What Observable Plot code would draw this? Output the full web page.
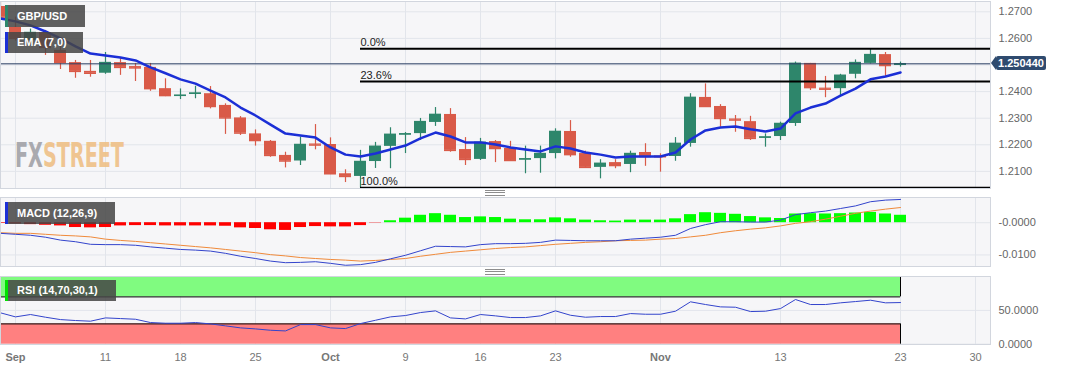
<!DOCTYPE html>
<html>
<head>
<meta charset="utf-8">
<script src="https://cdn.jsdelivr.net/npm/d3@7"></script>
<script src="https://cdn.jsdelivr.net/npm/@observablehq/plot@0.6"></script>
<style>
  html, body { margin: 0; padding: 0; background: #ffffff; }
  #chart { position: relative; width: 1067px; height: 370px; overflow: hidden;
           font-family: "Liberation Sans", Arial, sans-serif; }
  #chart > svg, #chart > figure { position: absolute; left: 0; margin: 0; }
  .lbl { position: absolute; background: rgba(70,70,70,0.86); color: #fff;
         font: bold 11px "Liberation Sans", Arial, sans-serif; padding-left: 12px;
         box-sizing: border-box; white-space: nowrap; }
  .lbl .stripe { position: absolute; left: 0; top: 0; bottom: 0; width: 3px; }
  .tag { position: absolute; left: 996px; width: 50px; height: 14px; background: #2f4b6f;
         color: #fff; font: bold 11px "Liberation Sans", Arial, sans-serif; line-height: 14px;
         text-align: center; border-radius: 2px; }
  .tag::before { content: ""; position: absolute; left: -5px; top: 0; width: 0; height: 0;
         border-top: 7px solid transparent; border-bottom: 7px solid transparent;
         border-right: 5px solid #2f4b6f; }
  .handle { position: absolute; width: 20px; height: 4px; border-top: 1px solid #8d8d8d;
            border-bottom: 1px solid #8d8d8d;
            background: linear-gradient(#fff 0 1.5px, #8d8d8d 1.5px 2.5px, #fff 2.5px); }
</style>
</head>
<body>
<div id="chart"></div>
<script>
// ---------- DATA (trading-day index; -1 = Aug 31, 0 = Sep 1 ... 59 = Nov 23) ----------
const firstIndex = -1;
const open  = [1.2720,1.2641,1.2592,1.2622,1.2555,1.2509,1.2476,1.2469,1.2509,1.2494,1.2491,1.2411,1.2382,1.2389,1.2392,1.2348,1.2301,1.2241,1.2213,1.2160,1.2139,1.2203,1.2201,1.2091,1.2081,1.2137,1.2194,1.2237,1.2242,1.2284,1.2314,1.2182,1.2145,1.2212,1.2186,1.2143,1.2148,1.2167,1.2250,1.2167,1.2115,1.2133,1.2126,1.2171,1.2158,1.2156,1.2205,1.2378,1.2344,1.2297,1.2287,1.2225,1.2231,1.2280,1.2506,1.2413,1.2411,1.2465,1.2506,1.2539,1.2498];
const high  = [1.2740,1.2680,1.2635,1.2630,1.2570,1.2517,1.2517,1.2547,1.2528,1.2506,1.2506,1.2448,1.2410,1.2420,1.2419,1.2354,1.2306,1.2256,1.2216,1.2172,1.2229,1.2276,1.2226,1.2106,1.2179,1.2209,1.2264,1.2246,1.2299,1.2340,1.2336,1.2227,1.2224,1.2216,1.2213,1.2195,1.2195,1.2260,1.2291,1.2176,1.2144,1.2144,1.2176,1.2204,1.2166,1.2227,1.2392,1.2429,1.2351,1.2310,1.2307,1.2241,1.2285,1.2511,1.2506,1.2457,1.2465,1.2519,1.2561,1.2547,1.2511];
const low   = [1.2670,1.2590,1.2580,1.2536,1.2483,1.2450,1.2454,1.2465,1.2461,1.2438,1.2401,1.2381,1.2370,1.2373,1.2335,1.2239,1.2235,1.2195,1.2153,1.2113,1.2122,1.2181,1.2088,1.2058,1.2038,1.2111,1.2110,1.2167,1.2216,1.2269,1.2172,1.2122,1.2141,1.2133,1.2138,1.2091,1.2093,1.2147,1.2153,1.2112,1.2072,1.2110,1.2095,1.2119,1.2097,1.2138,1.2191,1.2341,1.2266,1.2247,1.2216,1.2191,1.2216,1.2269,1.2404,1.2377,1.2385,1.2448,1.2504,1.2457,1.2492];
const close = [1.2680,1.2600,1.2622,1.2566,1.2509,1.2476,1.2469,1.2509,1.2491,1.2489,1.2411,1.2385,1.2386,1.2394,1.2344,1.2301,1.2244,1.2216,1.2160,1.2139,1.2201,1.2199,1.2091,1.2081,1.2137,1.2194,1.2239,1.2241,1.2287,1.2314,1.2179,1.2145,1.2209,1.2186,1.2141,1.2147,1.2167,1.2250,1.2163,1.2115,1.2130,1.2122,1.2167,1.2156,1.2155,1.2205,1.2378,1.2344,1.2299,1.2293,1.2224,1.2229,1.2280,1.2506,1.2415,1.2409,1.2461,1.2509,1.2539,1.2498,1.25044];
const ema7  = [1.2675,1.2664,1.2649,1.2626,1.2600,1.2570,1.2543,1.2536,1.2528,1.2517,1.2491,1.2469,1.2446,1.2430,1.2404,1.2378,1.2340,1.2310,1.2276,1.2242,1.2235,1.2227,1.2190,1.2163,1.2156,1.2167,1.2182,1.2197,1.2224,1.2246,1.2231,1.2209,1.2209,1.2201,1.2190,1.2182,1.2175,1.2194,1.2186,1.2171,1.2163,1.2152,1.2156,1.2156,1.2156,1.2171,1.2220,1.2254,1.2265,1.2269,1.2258,1.2250,1.2261,1.2318,1.2340,1.2355,1.2385,1.2411,1.2446,1.2457,1.2472];

const macdLine   = [-0.0033,-0.0036,-0.0039,-0.0045,-0.0054,-0.0059,-0.0067,-0.0068,-0.0068,-0.0070,-0.0075,-0.0079,-0.0083,-0.0085,-0.0088,-0.0095,-0.0104,-0.0111,-0.0119,-0.0124,-0.0123,-0.0121,-0.0126,-0.0132,-0.0130,-0.0123,-0.0112,-0.0101,-0.0087,-0.0073,-0.0074,-0.0075,-0.0068,-0.0065,-0.0065,-0.0064,-0.0061,-0.0054,-0.0055,-0.0056,-0.0056,-0.0056,-0.0051,-0.0048,-0.0045,-0.0039,-0.0018,-0.0006,0.0003,0.0003,0.0002,0.0002,0.0008,0.0025,0.0031,0.0036,0.0044,0.0052,0.0065,0.0070,0.0072];
const signalLine = [-0.0031,-0.0033,-0.0033,-0.0036,-0.0039,-0.0041,-0.0044,-0.0051,-0.0055,-0.0058,-0.0062,-0.0066,-0.0070,-0.0074,-0.0078,-0.0083,-0.0088,-0.0093,-0.0099,-0.0103,-0.0108,-0.0111,-0.0114,-0.0116,-0.0119,-0.0117,-0.0114,-0.0111,-0.0104,-0.0098,-0.0092,-0.0088,-0.0084,-0.0080,-0.0077,-0.0075,-0.0071,-0.0067,-0.0064,-0.0061,-0.0059,-0.0056,-0.0055,-0.0054,-0.0051,-0.0049,-0.0044,-0.0039,-0.0031,-0.0025,-0.0020,-0.0016,-0.0010,-0.0002,0.0003,0.0011,0.0020,0.0029,0.0036,0.0042,0.0047];
const macdHist   = [-0.0002,-0.0004,-0.0006,-0.0008,-0.0010,-0.0015,-0.0016,-0.0015,-0.0010,-0.0009,-0.0009,-0.0010,-0.0010,-0.0010,-0.0010,-0.0011,-0.0016,-0.0018,-0.0022,-0.0024,-0.0015,-0.0012,-0.0013,-0.0013,-0.0009,-0.0001,0.0006,0.0014,0.0023,0.0028,0.0023,0.0016,0.0018,0.0016,0.0011,0.0009,0.0009,0.0015,0.0012,0.0008,0.0006,0.0005,0.0008,0.0008,0.0008,0.0012,0.0025,0.0031,0.0029,0.0026,0.0019,0.0015,0.0013,0.0027,0.0028,0.0027,0.0028,0.0030,0.0032,0.0027,0.0023];
const rsi14      = [46.4,40.4,43.9,39.9,36.4,35.0,34.0,38.9,37.9,36.9,32.0,31.0,31.0,32.0,30.0,27.1,24.1,22.6,20.6,19.6,29.0,29.0,24.1,23.1,30.5,35.4,40.4,42.4,46.8,49.3,38.9,37.4,43.9,41.9,39.4,39.4,41.9,49.3,42.8,39.9,40.9,40.9,45.3,44.3,44.3,48.8,62.7,58.7,55.2,54.7,48.3,48.8,52.7,66.1,58.7,58.7,61.2,63.1,65.1,61.2,61.6];

const priceTicks = [1.27, 1.26, 1.24, 1.23, 1.22, 1.21];
const priceGrid  = [1.27, 1.26, 1.25, 1.24, 1.23, 1.22, 1.21];
const lastPrice  = 1.25044;
const lastPriceLabel = "1.250440";
const fibLabels  = ["0.0%", "23.6%", "100.0%"];
const fibPrices  = [1.2561, 1.2438, 1.2038];
const fibStartIndex = 23;

const dateTickIndex  = [0, 6, 11, 16, 21, 26, 31, 36, 43, 51, 59, 64];
const dateTickLabels = ["Sep", "11", "18", "25", "Oct", "9", "16", "23", "Nov", "13", "23", "30"];
const monthLabels    = ["Sep", "Oct", "Nov"];

const macdTicks = [0, -0.01];
const macdTickLabels = ["-0.0000", "-0.0100"];
const rsiTicks = [50, 0];
const rsiTickLabels = ["50.0000", "0.0000"];
const rsiTop = 100, rsiOverbought = 70, rsiOversold = 30, rsiBottom = 0;

// ---------- BUILD ----------
const W = 1067, RIGHT = 77;
const xDomain = [-1, 65];
const GREEN = "#2e866b", RED = "#d95a48";
const BG = "#f6f6f8", GRID = "#e2e5eb", BORDER = "#d2d6de";
const half = 0.4;
const lastIndex = firstIndex + open.length - 1;
const idx = (d, i) => i + firstIndex;
const FONT = '"Liberation Sans", Arial, sans-serif';

const candles = open.map((o, i) => ({
  i: i + firstIndex, o, h: high[i], l: low[i], c: close[i],
  col: close[i] >= o ? GREEN : RED
}));
const hist = macdHist.map((v, i) => ({ i: i + firstIndex, v, col: v >= 0 ? "#00ff00" : "#ff0000" }));

const chart = document.getElementById("chart");
const labelOf = (ticks, labels) => d => labels[ticks.indexOf(d)];

// Panel 1: price
const p1 = Plot.plot({
  width: W, height: 189, marginLeft: 0, marginRight: RIGHT, marginTop: 1, marginBottom: 1,
  style: { background: "transparent", fontFamily: FONT },
  x: { domain: xDomain, axis: null },
  y: { domain: [1.20356, 1.27387], axis: null },
  color: { type: "identity" },
  marks: [
    Plot.frame({ fill: BG, stroke: null }),
    Plot.ruleX(dateTickIndex, { stroke: GRID }),
    Plot.ruleY(priceGrid, { stroke: GRID }),
    Plot.axisY(priceTicks, { anchor: "right", tickSize: 0, tickPadding: 8, tickFormat: d3.format(".4f"),
                             fontSize: 11, fill: "#666", label: null }),
    Plot.ruleX(candles, { x: "i", y1: "l", y2: "h", stroke: "col", strokeWidth: 1.2, clip: true }),
    Plot.rect(candles, { x1: d => d.i - half, x2: d => d.i + half, y1: "o", y2: "c", fill: "col", clip: true }),
    Plot.ruleY(candles, { x1: d => d.i - half, x2: d => d.i + half, y: "c", stroke: "col", strokeWidth: 1.5, clip: true }),
    Plot.ruleY([lastPrice], { stroke: "#2b3f63", strokeWidth: 1 }),
    Plot.ruleY(fibPrices, { x1: fibStartIndex, x2: xDomain[1], stroke: "#000", strokeWidth: 2.2 }),
    Plot.text(fibLabels, { x: fibStartIndex, y: (d, i) => fibPrices[i], text: d => d, textAnchor: "start",
                           dy: -6, fontSize: 11, fill: "#222" }),
    Plot.line(ema7, { x: idx, y: d => d, stroke: "#1b2fd6", strokeWidth: 2.5, clip: true }),
    Plot.frame({ stroke: BORDER })
  ]
});
p1.style.top = "0px";
chart.appendChild(p1);

// Panel 2: MACD
const p2 = Plot.plot({
  width: W, height: 80, marginLeft: 0, marginRight: RIGHT, marginTop: 8, marginBottom: 3,
  style: { background: "transparent", fontFamily: FONT },
  x: { domain: xDomain, axis: null },
  y: { domain: [-0.01358, 0.00781], axis: null },
  color: { type: "identity" },
  marks: [
    Plot.frame({ fill: BG, stroke: null }),
    Plot.ruleX(dateTickIndex, { stroke: GRID }),
    Plot.ruleY(macdTicks, { stroke: GRID }),
    Plot.axisY(macdTicks, { anchor: "right", tickSize: 0, tickPadding: 8,
                            tickFormat: labelOf(macdTicks, macdTickLabels), fontSize: 11, fill: "#666", label: null }),
    Plot.rect(hist, { x1: d => d.i - half, x2: d => d.i + half, y1: 0, y2: "v", fill: "col", clip: true }),
    Plot.line(signalLine, { x: idx, y: d => d, stroke: "#f08a3a", strokeWidth: 1, clip: true }),
    Plot.line(macdLine, { x: idx, y: d => d, stroke: "#3344cc", strokeWidth: 1, clip: true }),
    Plot.frame({ stroke: BORDER })
  ]
});
p2.style.top = "189px";
chart.appendChild(p2);

// Panel 3: RSI + date axis
const monthIdx = dateTickIndex.filter((d, i) => monthLabels.includes(dateTickLabels[i]));
const dayIdx = dateTickIndex.filter((d, i) => !monthLabels.includes(dateTickLabels[i]));
const p3 = Plot.plot({
  width: W, height: 101, marginLeft: 0, marginRight: RIGHT, marginTop: 7, marginBottom: 26,
  style: { background: "transparent", fontFamily: FONT },
  x: { domain: xDomain, axis: null },
  y: { domain: [-0.5, 100.2], axis: null },
  marks: [
    Plot.frame({ fill: BG, stroke: null }),
    Plot.ruleX(dateTickIndex, { stroke: GRID }),
    Plot.ruleY(rsiTicks, { stroke: GRID }),
    Plot.rect([0], { x1: firstIndex, x2: lastIndex, y1: rsiOverbought, y2: rsiTop, fill: "#80fb80" }),
    Plot.rect([0], { x1: firstIndex, x2: lastIndex, y1: rsiBottom, y2: rsiOversold, fill: "#ff8080" }),
    Plot.ruleY([rsiOverbought, rsiOversold], { x1: firstIndex, x2: lastIndex, stroke: "#000", strokeWidth: 1 }),
    Plot.ruleX([lastIndex], { y1: rsiOverbought, y2: rsiTop, stroke: "#000" }),
    Plot.ruleX([lastIndex], { y1: rsiBottom, y2: rsiOversold, stroke: "#000" }),
    Plot.line(rsi14, { x: idx, y: d => d, stroke: "#3344cc", strokeWidth: 1, clip: true }),
    Plot.axisY(rsiTicks, { anchor: "right", tickSize: 0, tickPadding: 8,
                           tickFormat: labelOf(rsiTicks, rsiTickLabels), fontSize: 11, fill: "#666", label: null }),
    Plot.axisX(dayIdx, { anchor: "bottom", tickSize: 0, tickPadding: 9,
                         tickFormat: labelOf(dateTickIndex, dateTickLabels), fontSize: 11, fill: "#777", label: null }),
    Plot.axisX(monthIdx, { anchor: "bottom", tickSize: 0, tickPadding: 9, fontWeight: "bold",
                           tickFormat: labelOf(dateTickIndex, dateTickLabels), fontSize: 11, fill: "#777", label: null }),
    Plot.frame({ stroke: BORDER })
  ]
});
p3.style.top = "269px";
chart.appendChild(p3);

// ---------- overlays ----------
function addLabel(text, left, top, width, height, stripe) {
  const el = document.createElement("div");
  el.className = "lbl";
  el.style.cssText = `left:${left}px;top:${top}px;width:${width}px;height:${height}px;line-height:${height}px;`;
  const s = document.createElement("span");
  s.className = "stripe"; s.style.background = stripe;
  el.appendChild(s);
  el.appendChild(document.createTextNode(text));
  chart.appendChild(el);
}
addLabel("GBP/USD", 5, 5, 80, 22, GREEN);
addLabel("EMA (7,0)", 5, 32, 78, 21, "#1b2fd6");
addLabel("MACD (12,26,9)", 5, 202, 110, 22, "#1b2fd6");
addLabel("RSI (14,70,30,1)", 5, 280, 111, 21, "#00e000");

// last price tag
const yLast = p1.scale("y").apply(lastPrice);
const tag = document.createElement("div");
tag.className = "tag";
tag.style.top = (yLast - 7) + "px";
tag.textContent = lastPriceLabel;
chart.appendChild(tag);

// pane handles
[190, 269].forEach(t => {
  const h = document.createElement("div");
  h.className = "handle";
  h.style.left = "485px"; h.style.top = t + "px";
  chart.appendChild(h);
});

// watermark logo: one text, two coloured parts, condensed with a horizontal scale
const ns = "http://www.w3.org/2000/svg";
const logo = document.createElementNS(ns, "svg");
logo.setAttribute("width", "150"); logo.setAttribute("height", "50");
logo.style.cssText = "position:absolute;left:0;top:130px;opacity:0.9";
const tx = document.createElementNS(ns, "text");
tx.setAttribute("x", 0); tx.setAttribute("y", 0);
tx.setAttribute("font-family", '"DejaVu Sans Condensed", "DejaVu Sans", sans-serif');
tx.setAttribute("font-weight", "bold"); tx.setAttribute("font-size", "34");
[["FX", "#a2a2a8"], ["STREET", "#efc086"]].forEach(([t, col]) => {
  const ts = document.createElementNS(ns, "tspan");
  ts.setAttribute("fill", col);
  ts.textContent = t;
  tx.appendChild(ts);
});
logo.appendChild(tx);
chart.appendChild(logo);
const natural = tx.getComputedTextLength() || 160;
tx.setAttribute("transform", `translate(15,37.3) scale(${109 / natural},1)`);
</script>
</body>
</html>
